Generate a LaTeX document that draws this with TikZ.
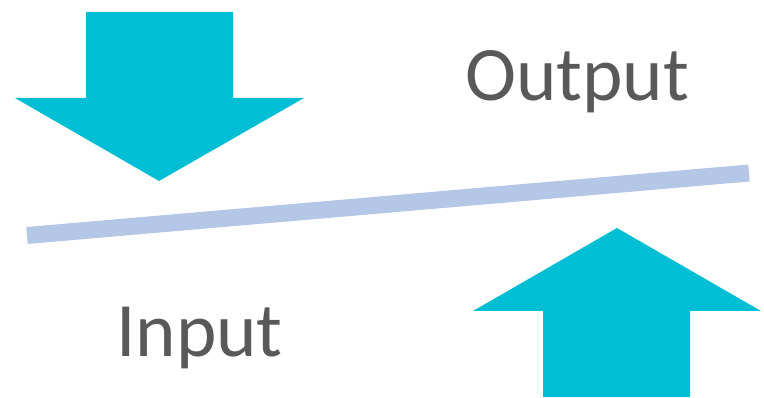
\documentclass[tikz,border=0pt]{standalone}
\usepackage{fontspec}
\setmainfont{Carlito}
\usepackage{xcolor}
\definecolor{arrowcyan}{HTML}{00BED4}
\definecolor{barblue}{HTML}{B4C7E7}
\definecolor{labelgray}{HTML}{595959}

\begin{document}
\begin{tikzpicture}[
    x=1pt, y=-1pt,
    bigarrow/.style={fill=arrowcyan, draw=none},
    divider/.style={draw=barblue, line width=17pt},
    label/.style={anchor=base west, inner sep=0pt, text=labelgray,
                  font=\fontsize{77}{80}\selectfont}
]
\useasboundingbox (0,0) rectangle (764,398);

% Down arrow (top left)
\fill[bigarrow] (86,12) -- (233,12) -- (233,98) -- (304,98) -- (159,181)
    -- (15,98) -- (86,98) -- cycle;

% Up arrow (bottom right)
\fill[bigarrow] (543,397) -- (690,397) -- (690,311) -- (761,311) -- (617,228)
    -- (473,311) -- (543,311) -- cycle;

% Dividing bar
\coordinate (barL) at (27,235.5);
\coordinate (barR) at (749,173);
\draw[divider] (barL) -- (barR);

% Labels
\node[label] (output) at (465,101) {Output};
\node[label] (input) at (116,356) {Input};

\end{tikzpicture}
\end{document}
